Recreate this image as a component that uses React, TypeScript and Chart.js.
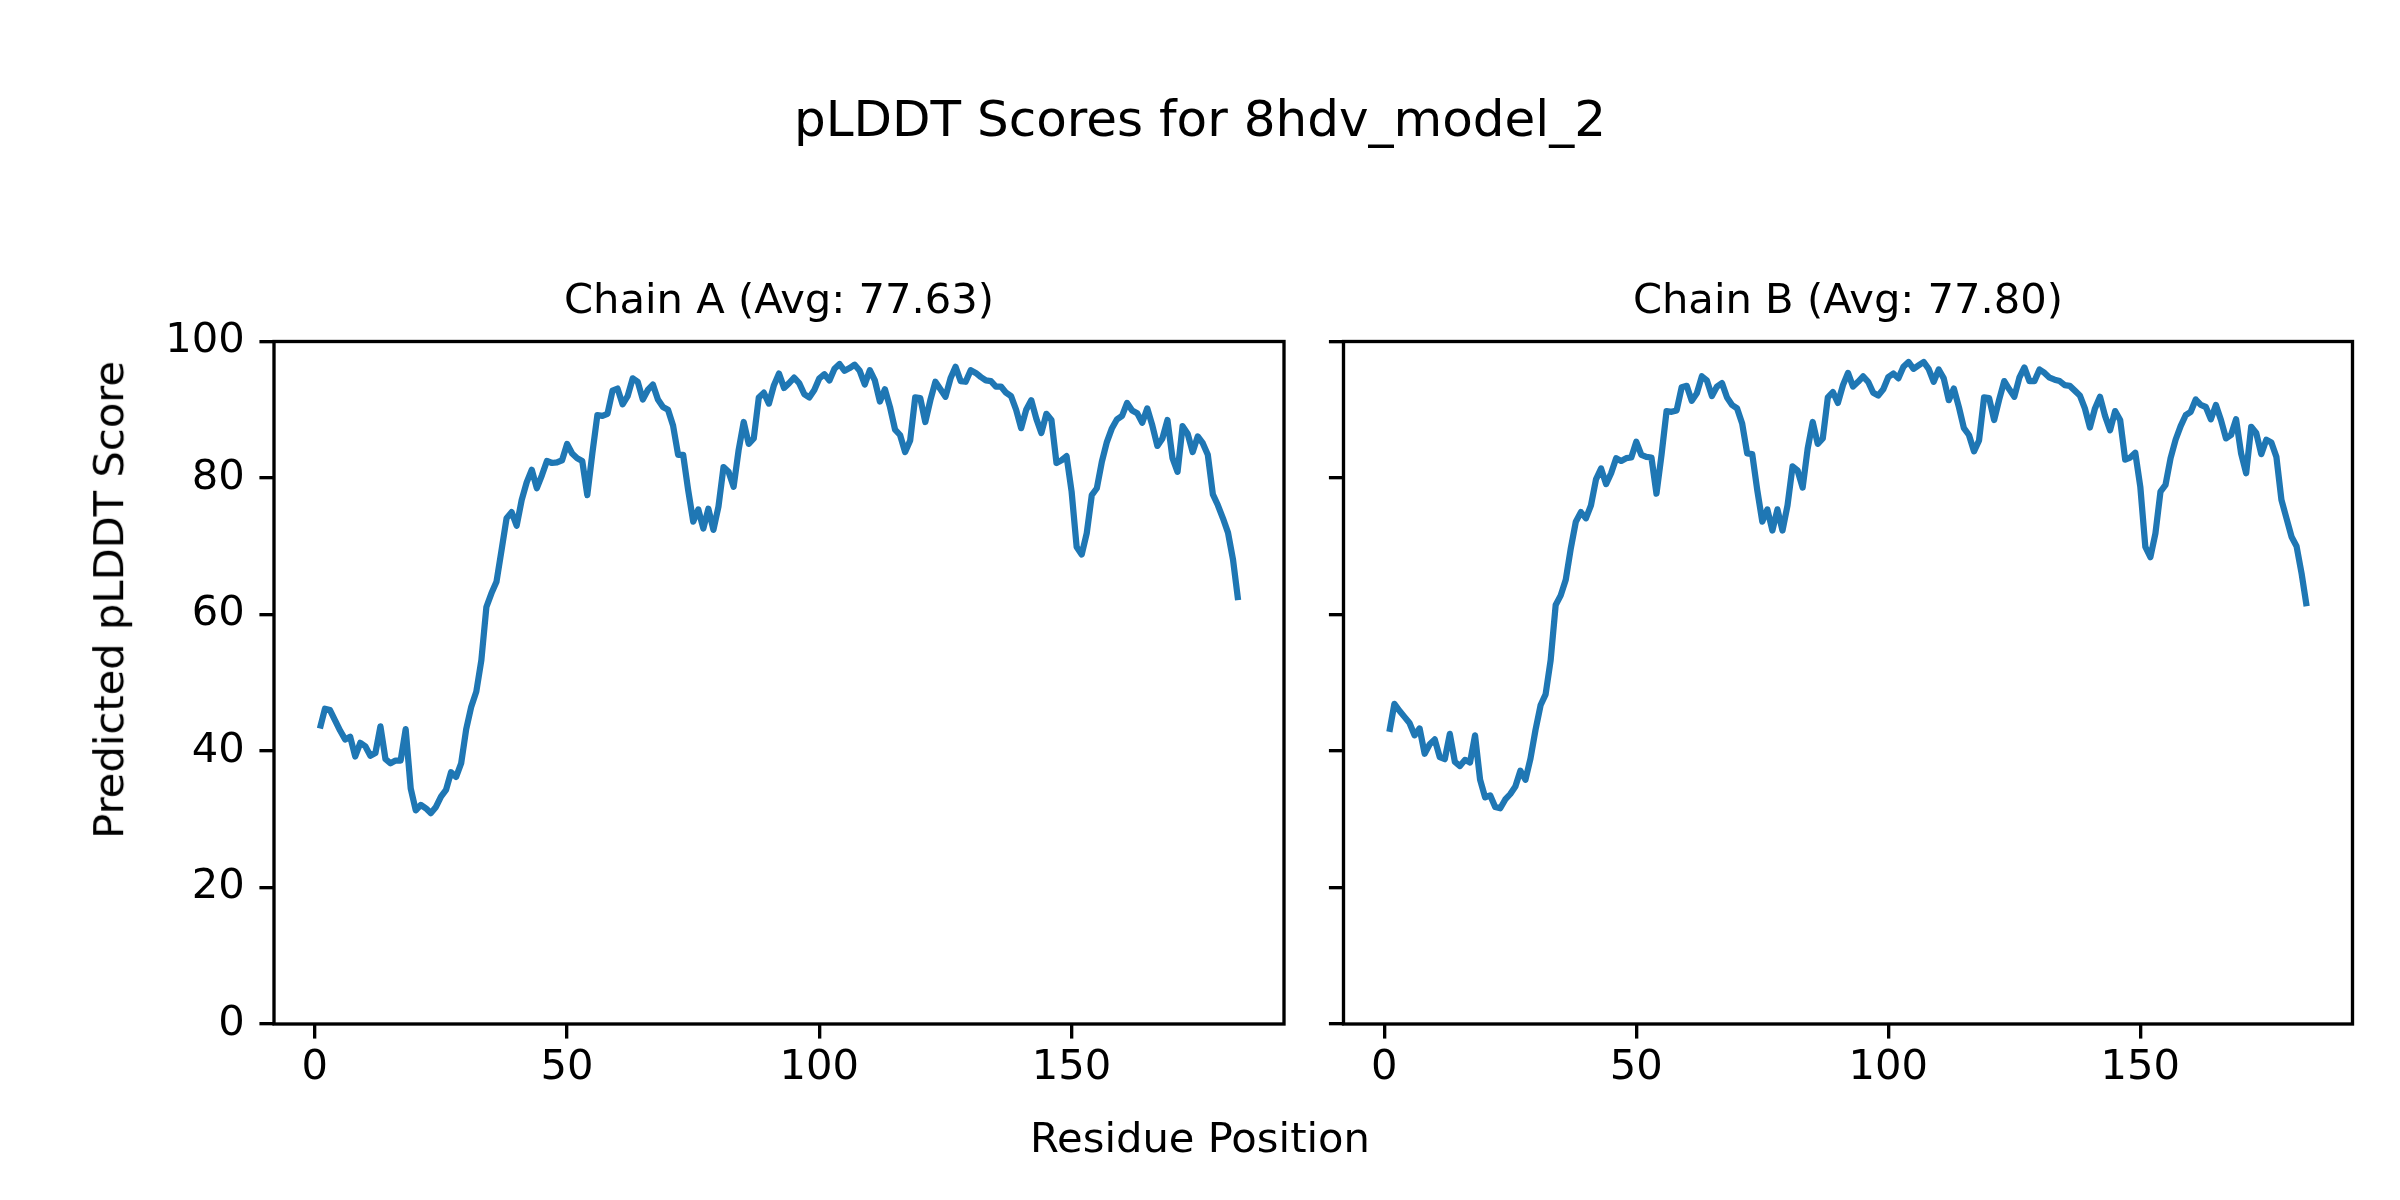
import React, { useEffect, useRef } from "react";
import { Chart, registerables } from "chart.js";

Chart.register(...registerables);

// ---------- data ----------
const figureTitle = "pLDDT Scores for 8hdv_model_2";
const xAxisLabel = "Residue Position";
const yAxisLabel = "Predicted pLDDT Score";
const chainTitles = ["Chain A (Avg: 77.63)", "Chain B (Avg: 77.80)"];
const firstResidue = 1;
const xTickValues = [0, 50, 100, 150];
const yTickValues = [0, 20, 40, 60, 80, 100];

const chainAScores = [
  43.3, 46.2, 46.0, 44.5, 43.0, 41.7, 42.1, 39.2, 41.2, 40.7,
  39.3, 39.7, 43.6, 38.8, 38.2, 38.6, 38.6, 43.2, 34.5, 31.3,
  32.1, 31.6, 30.9, 31.8, 33.3, 34.3, 36.9, 36.2, 38.2, 43.2,
  46.5, 48.7, 53.3, 61.1, 63.1, 64.8, 69.4, 74.1, 75.0, 73.0,
  76.8, 79.4, 81.2, 78.5, 80.4, 82.5, 82.2, 82.3, 82.6, 85.0,
  83.6, 82.9, 82.5, 77.5, 83.6, 89.2, 89.1, 89.4, 92.8, 93.1,
  90.8, 92.0, 94.6, 94.1, 91.5, 92.9, 93.7, 91.5, 90.4, 90.0,
  87.7, 83.4, 83.4, 78.2, 73.6, 75.4, 72.6, 75.5, 72.4, 75.8,
  81.6, 80.9, 78.7, 84.1, 88.2, 85.0, 85.8, 91.8, 92.5, 90.9,
  93.6, 95.3, 93.2, 93.9, 94.7, 93.9, 92.3, 91.8, 92.9, 94.6,
  95.2, 94.3, 96.0, 96.7, 95.7, 96.1, 96.6, 95.7, 93.7, 95.8,
  94.3, 91.2, 93.0, 90.4, 87.1, 86.3, 83.8, 85.5, 91.8, 91.7,
  88.2, 91.4, 94.1, 93.0, 91.9, 94.6, 96.3, 94.2, 94.1, 95.8,
  95.4, 94.8, 94.3, 94.2, 93.4, 93.4, 92.5, 92.0, 90.0, 87.3,
  90.0, 91.4, 88.7, 86.6, 89.4, 88.5, 82.2, 82.6, 83.2, 78.0,
  69.9, 68.8, 71.9, 77.5, 78.5, 82.4, 85.3, 87.3, 88.6, 89.1,
  91.0, 89.9, 89.5, 88.1, 90.2, 87.7, 84.7, 85.8, 88.5, 82.9,
  80.9, 87.6, 86.5, 83.8, 86.1, 85.1, 83.4, 77.6, 76.0, 74.1,
  72.0, 68.0, 62.1,
];

const chainBScores = [
  42.8, 46.9, 45.9, 45.0, 44.1, 42.3, 43.3, 39.6, 41.0, 41.7,
  39.1, 38.8, 42.5, 38.4, 37.8, 38.7, 38.3, 42.3, 35.8, 33.2,
  33.5, 31.8, 31.6, 32.9, 33.7, 34.8, 37.1, 35.8, 38.9, 43.1,
  46.7, 48.3, 53.3, 61.4, 62.8, 65.1, 69.7, 73.6, 75.0, 74.1,
  76.0, 79.8, 81.4, 79.1, 80.7, 82.9, 82.5, 82.9, 83.0, 85.3,
  83.4, 83.1, 83.0, 77.7, 83.4, 89.8, 89.7, 89.9, 93.3, 93.5,
  91.3, 92.4, 94.9, 94.3, 92.0, 93.4, 93.9, 91.8, 90.7, 90.2,
  88.0, 83.6, 83.5, 78.2, 73.6, 75.4, 72.3, 75.4, 72.3, 76.0,
  81.7, 81.1, 78.6, 84.3, 88.2, 85.0, 85.8, 91.8, 92.6, 91.0,
  93.6, 95.4, 93.4, 94.1, 94.9, 94.1, 92.5, 92.1, 93.0, 94.8,
  95.3, 94.6, 96.3, 97.0, 96.0, 96.5, 97.0, 96.0, 94.1, 95.9,
  94.6, 91.4, 93.1, 90.4, 87.3, 86.3, 83.9, 85.5, 91.8, 91.7,
  88.5, 91.5, 94.2, 93.0, 91.9, 94.7, 96.2, 94.2, 94.2, 95.9,
  95.4, 94.7, 94.4, 94.2, 93.6, 93.5, 92.8, 92.1, 90.2, 87.4,
  90.2, 91.9, 89.1, 87.0, 89.8, 88.5, 82.7, 83.0, 83.7, 78.7,
  69.9, 68.4, 71.9, 78.0, 79.0, 82.9, 85.6, 87.6, 89.2, 89.7,
  91.5, 90.7, 90.4, 88.6, 90.7, 88.5, 85.8, 86.3, 88.6, 83.6,
  80.7, 87.5, 86.6, 83.5, 85.6, 85.2, 83.1, 76.8, 74.1, 71.4,
  70.0, 66.0, 61.2,
];

// ---------- styles ----------
const W = 2400;
const H = 1200;
const PT = 300 / 72;
const FONT = "'DejaVu Sans', 'Liberation Sans', sans-serif";
const tickFont = 10 * PT;
const titleFont = 10 * PT;
const supTitleFont = 12 * PT;
const lineColor = "#1f77b4";
const spineWidth = 0.8 * PT;
const tickLen = 3.5 * PT;
const xAxisHeight = 100;
const areaTop = 341.5;
const areaBottom = 1024;

const panels = [
  { scores: chainAScores, title: chainTitles[0], left: 274, right: 1284, showY: true },
  { scores: chainBScores, title: chainTitles[1], left: 1343.5, right: 2352.5, showY: false },
];

const framePlugin = {
  id: "frame",
  afterDraw(chart: any) {
    const { ctx, chartArea: a } = chart;
    ctx.save();
    ctx.strokeStyle = "#000";
    ctx.lineWidth = spineWidth;
    ctx.lineJoin = "miter";
    ctx.strokeRect(a.left, a.top, a.right - a.left, a.bottom - a.top);
    ctx.restore();
  },
};

function makeConfig(p: any): any {
  const n = p.scores.length;
  const lastResidue = firstResidue + n - 1;
  const margin = (lastResidue - firstResidue) * 0.05;
  const titlePadBottom = 14.5;
  const titleLine = titleFont * 1.2;
  return {
    type: "line",
    data: {
      datasets: [
        {
          data: p.scores.map((v: number, i: number) => ({ x: firstResidue + i, y: v })),
          borderColor: lineColor,
          backgroundColor: lineColor,
          borderWidth: 1.5 * PT,
          pointRadius: 0,
          tension: 0,
          fill: false,
          borderJoinStyle: "round",
          borderCapStyle: "butt",
        },
      ],
    },
    options: {
      animation: false,
      responsive: false,
      maintainAspectRatio: false,
      devicePixelRatio: 1,
      events: [],
      layout: {
        padding: {
          left: 0,
          right: W - p.right,
          top: areaTop - titleLine - titlePadBottom,
          bottom: H - areaBottom - xAxisHeight,
        },
      },
      plugins: {
        legend: { display: false },
        tooltip: { enabled: false },
        title: {
          display: true,
          text: p.title,
          fullSize: false,
          color: "#000",
          font: { size: titleFont, weight: "normal", family: FONT, lineHeight: 1.2 },
          padding: { top: 0, bottom: titlePadBottom },
        },
      },
      scales: {
        x: {
          type: "linear",
          min: firstResidue - margin,
          max: lastResidue + margin,
          afterBuildTicks: (s: any) => {
            s.ticks = xTickValues.map((v) => ({ value: v }));
          },
          afterFit: (s: any) => {
            s.height = xAxisHeight;
          },
          border: { display: false },
          grid: {
            display: true,
            drawOnChartArea: false,
            drawTicks: true,
            tickLength: tickLen,
            tickWidth: spineWidth,
            tickColor: "#000",
            lineWidth: spineWidth,
            color: "#000",
          },
          ticks: {
            color: "#000",
            font: { size: tickFont, family: FONT },
            padding: 5,
            maxRotation: 0,
            autoSkip: false,
            callback: (v: any) => String(v),
          },
        },
        y: {
          type: "linear",
          min: 0,
          max: 100,
          afterBuildTicks: (s: any) => {
            s.ticks = yTickValues.map((v) => ({ value: v }));
          },
          afterFit: (s: any) => {
            s.width = p.left;
          },
          border: { display: false },
          grid: {
            display: true,
            drawOnChartArea: false,
            drawTicks: true,
            tickLength: tickLen,
            tickWidth: spineWidth,
            tickColor: "#000",
            lineWidth: spineWidth,
            color: "#000",
          },
          ticks: {
            display: p.showY,
            color: "#000",
            font: { size: tickFont, family: FONT },
            padding: tickLen,
            autoSkip: false,
            callback: (v: any) => String(v),
          },
        },
      },
    },
    plugins: [framePlugin],
  };
}

function Panel({ panel }: { panel: any }) {
  const ref = useRef<HTMLCanvasElement | null>(null);
  useEffect(() => {
    if (!ref.current) return;
    const chart = new Chart(ref.current, makeConfig(panel));
    return () => chart.destroy();
  }, [panel]);
  return (
    <canvas
      ref={ref}
      width={W}
      height={H}
      style={{ position: "absolute", left: 0, top: 0, width: W, height: H, display: "block" }}
    />
  );
}

export default function App() {
  const textBase: React.CSSProperties = {
    position: "absolute",
    fontFamily: FONT,
    color: "#000",
    whiteSpace: "nowrap",
    textAlign: "center",
  };
  return (
    <div style={{ position: "absolute", left: 0, top: 0, width: W, height: H, background: "#fff", overflow: "hidden" }}>
      {panels.map((p, i) => (
        <Panel key={i} panel={p} />
      ))}
      <div style={{ ...textBase, left: 0, width: W, top: 94, fontSize: supTitleFont, lineHeight: `${supTitleFont}px` }}>
        {figureTitle}
      </div>
      <div style={{ ...textBase, left: 0, width: W, top: 1117, fontSize: tickFont, lineHeight: `${tickFont}px` }}>
        {xAxisLabel}
      </div>
      <div
        style={{
          ...textBase,
          left: 109 - 400,
          width: 800,
          top: 600 - tickFont / 2,
          height: tickFont,
          fontSize: tickFont,
          lineHeight: `${tickFont}px`,
          transform: "rotate(-90deg)",
          transformOrigin: "50% 50%",
        }}
      >
        {yAxisLabel}
      </div>
    </div>
  );
}
